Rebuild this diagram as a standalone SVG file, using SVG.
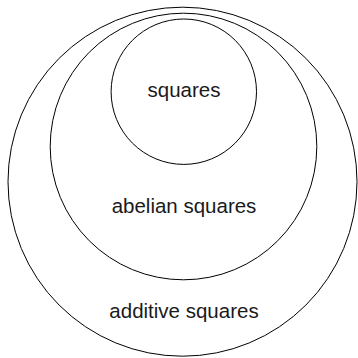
<svg xmlns="http://www.w3.org/2000/svg" width="358" height="358" viewBox="0 0 358 358">
<style>
.c{fill:none;stroke:#000;stroke-width:1}
.t{font-family:"Liberation Sans",Arial,sans-serif;font-size:20.5px;fill:#1a1a1a;text-anchor:middle}
</style>
<rect width="358" height="358" fill="#fff"/>
<g id="additive">
<circle class="c" cx="182.5" cy="181.7" r="174.5"/>
<text class="t" x="184" y="318">additive squares</text>
</g>
<g id="abelian">
<circle class="c" cx="183.5" cy="146.5" r="133.3"/>
<text class="t" x="184" y="213">abelian squares</text>
</g>
<g id="squares">
<circle class="c" cx="183.8" cy="91.7" r="72.7"/>
<text class="t" x="184" y="96.5">squares</text>
</g>
<g id="connectors"/>
</svg>
